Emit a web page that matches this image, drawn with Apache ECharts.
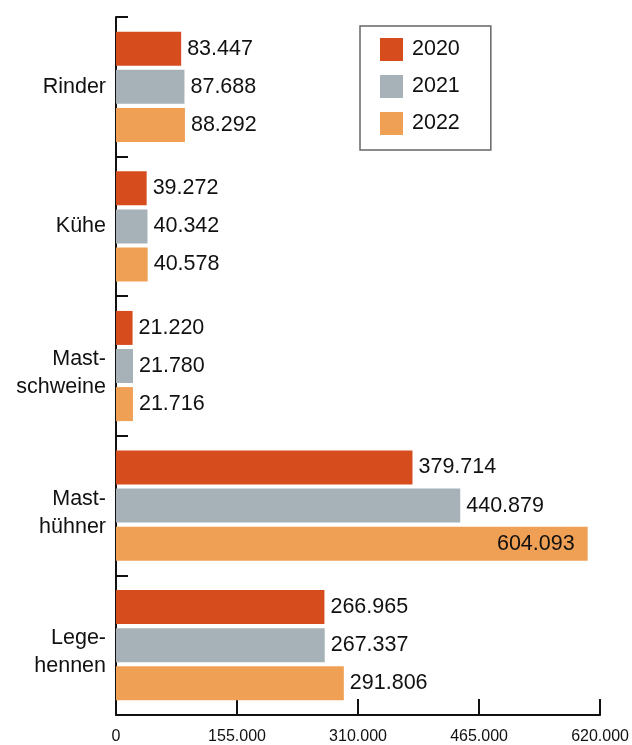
<!DOCTYPE html>
<html>
<head>
<meta charset="UTF-8">
<title>Tierbestand</title>
<script type="text/javascript" src="https://cdn.jsdelivr.net/npm/echarts@6/dist/echarts.min.js"></script>
</head>
<body style="margin:0;background:#fff">
	<div id="show" style="width:632px;height:745px"></div>
	<script type="text/javascript">
		var categories=['Rinder','Kühe','Mast-\nschweine','Mast-\nhühner','Lege-\nhennen'];
		var years=['2020','2021','2022'];
		var v2020=[83447,39272,21220,379714,266965];
		var v2021=[87688,40342,21780,440879,267337];
		var v2022=[88292,40578,21716,604093,291806];
		var colors=['#D64C1D','#A6B2B8','#F0A055'];
		var xTicks=[0,155000,310000,465000,620000];

		var font='Helvetica, "Liberation Sans", Arial, sans-serif';
		function de(n){
			return String(n).replace(/\B(?=(\d{3})+(?!\d))/g,'.');
		}
		function mk(name,data,color){
			return {
				name:name,
				type:'bar',
				barWidth:34,
				barGap:'12%',
				itemStyle:{color:color},
				data:data.map(function(v){
					var d={value:v};
					if(v>550000){
						d.label={position:'insideRight',distance:13};
					}
					return d;
				}),
				label:{
					show:true,
					position:'right',
					distance:6,
					color:'#111',
					fontSize:21.5,
					fontFamily:font,
					formatter:function(p){return de(p.value);}
				}
			};
		}
		var myCharts=echarts.init(document.getElementById('show'));
		myCharts.setOption({
			animation:false,
			grid:{left:116,right:29,top:17,bottom:27,containLabel:false},
			legend:{
				data:years,
				orient:'vertical',
				left:360,
				top:26,
				padding:[12,31,15,20],
				itemWidth:23,
				itemHeight:23,
				itemGap:14,
				borderColor:'#666',
				borderWidth:1.5,
				icon:'rect',
				textStyle:{fontSize:21.5,color:'#111',fontFamily:font,padding:[0,0,0,4]}
			},
			xAxis:{
				type:'value',
				min:xTicks[0],
				max:xTicks[xTicks.length-1],
				interval:xTicks[1]-xTicks[0],
				splitLine:{show:false},
				axisLine:{show:true,lineStyle:{color:'#111',width:2}},
				axisTick:{show:true,inside:true,length:16,lineStyle:{color:'#111',width:2}},
				axisLabel:{fontSize:16,color:'#111',margin:14,fontFamily:font,formatter:function(v){return de(v);}}
			},
			yAxis:{
				type:'category',
				inverse:true,
				data:categories,
				axisLine:{show:true,lineStyle:{color:'#111',width:2}},
				axisTick:{show:true,inside:true,length:12,lineStyle:{color:'#111',width:2}},
				axisLabel:{
					margin:10,
					align:'right',
					formatter:function(v){
						var parts=v.split('\n');
						if(parts.length<2) return '{t|'+v+'}';
						// zweizeilige Namen stehen im Original etwas tiefer
						return '{p| }\n{t|'+parts[0]+'}\n{t|'+parts[1]+'}';
					},
					rich:{
						t:{fontSize:21.5,lineHeight:28,color:'#111',fontFamily:font,align:'right'},
						p:{fontSize:4,lineHeight:14,align:'right'}
					}
				}
			},
			series:[
				mk(years[0],v2020,colors[0]),
				mk(years[1],v2021,colors[1]),
				mk(years[2],v2022,colors[2])
			]
		});
	</script>
</body>
</html>
